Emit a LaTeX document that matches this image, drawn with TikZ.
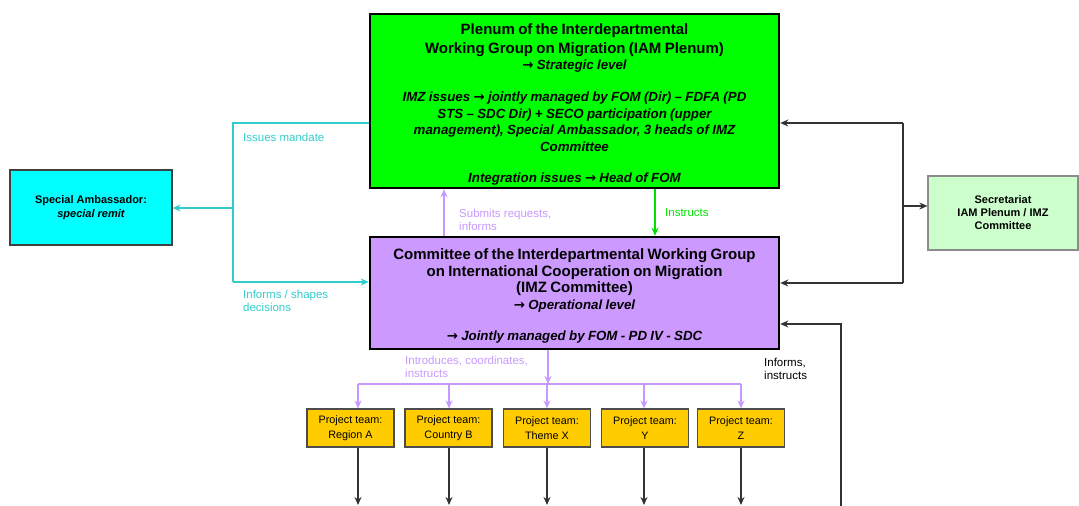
\documentclass[tikz,border=0pt]{standalone}
\usepackage{fontspec}
\setmainfont{Liberation Sans}
\newfontfamily\arrfont{DejaVu Sans}
\newcommand\rarr{{\arrfont\bfseries\upshape →}}
\usetikzlibrary{arrows.meta}
\definecolor{plenumgreen}{HTML}{00FF00}
\definecolor{imzpurple}{HTML}{CC99FF}
\definecolor{ambcyan}{HTML}{00FFFF}
\definecolor{secgreen}{HTML}{CCFFCC}
\definecolor{teamyellow}{HTML}{FFCC00}
\definecolor{cyanline}{HTML}{33CCCC}
\definecolor{purpline}{HTML}{C699FF}
\definecolor{greenline}{HTML}{00E000}
\begin{document}
\begin{tikzpicture}[x=1pt,y=-1pt,
  mainbox/.style={draw=black, line width=2.6pt, inner sep=0pt},
  maintext/.style={inner sep=0pt, align=center, text width=400pt},
  ambbox/.style={draw=black!75, line width=1.2pt, fill=ambcyan, minimum width=162pt, minimum height=75pt, inner sep=0pt, align=center, font=\fontsize{11}{14}\selectfont\bfseries},
  secbox/.style={draw=black!45, line width=1.2pt, fill=secgreen, minimum width=150pt, minimum height=74pt, inner sep=0pt, align=center, font=\fontsize{11}{13}\selectfont\bfseries},
  teambox/.style={draw=black!70, line width=1.2pt, fill=teamyellow, minimum width=87pt, minimum height=38pt, inner sep=0pt, align=center, font=\fontsize{10.8}{14.5}\selectfont},
  cyanl/.style={draw=cyanline, line width=1.8pt},
  purpl/.style={draw=purpline, line width=1.8pt},
  blackl/.style={draw=black!80, line width=1.4pt},
  tip/.style={-{Stealth[length=8pt,width=7pt]}},
  lbl/.style={inner sep=0pt, anchor=west, align=left, font=\fontsize{11.5}{12.8}\selectfont}
]
\useasboundingbox (0,0) rectangle (1079,506);

% main boxes
\node[mainbox, fill=plenumgreen, minimum width=409pt, minimum height=174pt] (plenum) at (574.5,101) {};
\node[maintext] (plenumtext) at (574.5,104.5) {%
{\fontsize{15}{18.5}\selectfont\bfseries Plenum of the Interdepartmental\\Working Group on Migration (IAM Plenum)\\}%
{\fontsize{13.3}{16.5}\selectfont\bfseries\itshape \rarr{} Strategic level\\[15.5pt]
IMZ issues \rarr{} jointly managed by FOM (Dir) – FDFA (PD\\STS – SDC Dir) + SECO participation (upper\\management), Special Ambassador, 3 heads of IMZ\\Committee\\[19pt]
Integration issues \rarr{} Head of FOM}};

\node[mainbox, fill=imzpurple, minimum width=409pt, minimum height=112pt] (imz) at (574.5,293) {};
\node[maintext] (imztext) at (574.5,296) {%
{\fontsize{15}{16.8}\selectfont\bfseries Committee of the Interdepartmental Working Group\\on International Cooperation on Migration\\(IMZ Committee)\\}%
{\fontsize{13.3}{16.5}\selectfont\bfseries\itshape \rarr{} Operational level\\[18pt]
\rarr{} Jointly managed by FOM - PD IV - SDC}};

\node[ambbox] (amb) at (91,207.5) {Special Ambassador:\\{\itshape special remit}};
\node[secbox] (secr) at (1003,213) {Secretariat\\IAM Plenum / IMZ\\Committee};

\node[teambox] (t1) at (350.5,428) {Project team:\\Region A};
\node[teambox] (t2) at (448.5,428) {Project team:\\Country B};
\node[teambox] (t3) at (547,428) {Project team:\\Theme X};
\node[teambox] (t4) at (645,428) {Project team:\\Y};
\node[teambox] (t5) at (741,428) {Project team:\\Z};

% cyan connectors
\coordinate (c1) at (233,123);
\coordinate (c2) at (233,282);
\coordinate (c3) at (233,208);
\draw[cyanl] (plenum.west |- c1) -- (c1) -- (c2);
\draw[cyanl,tip] (c2) -- (imz.west |- c2);
\draw[cyanl,tip] (c3) -- (amb.east |- c3);
\node[lbl, text=cyanline] (l1) at (243,137) {Issues mandate};
\node[lbl, text=cyanline] (l2) at (243,300.5) {Informs / shapes\\decisions};

% between plenum and imz
\coordinate (u1) at (444,250);
\coordinate (g1) at (655,200);
\draw[purpl,tip] (imz.north -| u1) -- (plenum.south -| u1);
\draw[draw=greenline, line width=1.8pt, tip] (plenum.south -| g1) -- (imz.north -| g1);
\node[lbl, text=purpline] (l3) at (459,219.5) {Submits requests,\\informs};
\node[lbl, text=greenline] (l4) at (665,213) {Instructs};

% secretariat connectors
\coordinate (s1) at (903,123);
\coordinate (s2) at (903,283);
\coordinate (s3) at (903,206);
\draw[blackl] (s1) -- (s2);
\draw[blackl,tip] (s1) -- (plenum.east |- s1);
\draw[blackl,tip] (s2) -- (imz.east |- s2);
\draw[blackl,tip] (s3) -- (secr.west |- s3);

% informs, instructs from below
\coordinate (b1) at (841,324);
\coordinate (b2) at (841,506);
\draw[blackl,tip] (b2) -- (b1) -- (imz.east |- b1);
\node[lbl] (l5) at (764,369) {Informs,\\instructs};

% project team distribution
\coordinate (p0) at (548,384);
\coordinate (pa) at (358,384);
\coordinate (pb) at (449,384);
\coordinate (pc) at (547,384);
\coordinate (pd) at (644,384);
\coordinate (pe) at (741,384);
\draw[purpl,tip] (imz.south -| p0) -- (p0);
\draw[purpl] (pa) -- (pe);
\draw[purpl,tip] (pa) -- (t1.north -| pa);
\draw[purpl,tip] (pb) -- (t2.north -| pb);
\draw[purpl,tip] (pc) -- (t3.north -| pc);
\draw[purpl,tip] (pd) -- (t4.north -| pd);
\draw[purpl,tip] (pe) -- (t5.north -| pe);
\node[lbl, text=purpline] (l6) at (405,367) {Introduces, coordinates,\\instructs};

% outputs of project teams
\coordinate (o1) at (358,505);
\coordinate (o2) at (449,505);
\coordinate (o3) at (547,505);
\coordinate (o4) at (644,505);
\coordinate (o5) at (741,505);
\draw[blackl,tip] (t1.south -| o1) -- (o1);
\draw[blackl,tip] (t2.south -| o2) -- (o2);
\draw[blackl,tip] (t3.south -| o3) -- (o3);
\draw[blackl,tip] (t4.south -| o4) -- (o4);
\draw[blackl,tip] (t5.south -| o5) -- (o5);
\end{tikzpicture}
\end{document}
